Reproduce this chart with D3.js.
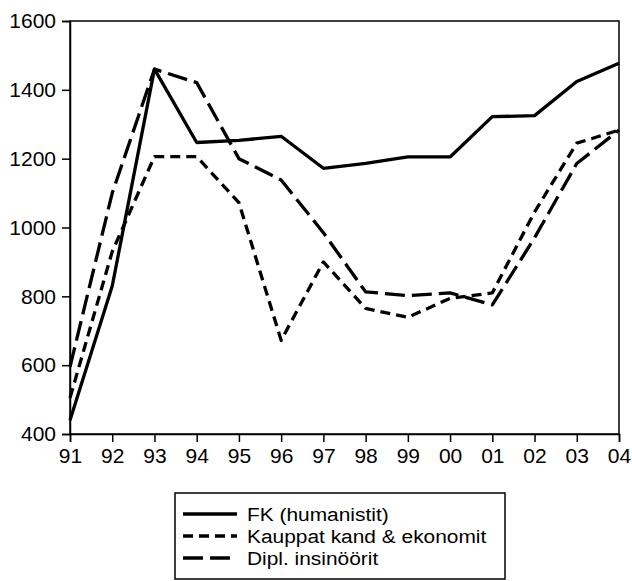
<!DOCTYPE html>
<html>
<head>
<meta charset="utf-8">
<script src="https://cdn.jsdelivr.net/npm/d3@7"></script>
<style>
  html, body { margin: 0; padding: 0; background: #fff; }
  svg text { font-family: "Liberation Sans", Arial, sans-serif; fill: #000; }
</style>
</head>
<body>
<svg id="chart" width="632" height="581"></svg>
<script>
const years = ["91","92","93","94","95","96","97","98","99","00","01","02","03","04"];
const fkHumanistit = [440, 830, 1460, 1247, 1253, 1265, 1172, 1186, 1205, 1205, 1322, 1325, 1424, 1477];
const kauppatKand  = [505, 930, 1206, 1206, 1072, 672, 900, 765, 739, 794, 810, 1045, 1245, 1283];
const diplInsinoorit = [595, 1100, 1460, 1421, 1200, 1138, 985, 813, 802, 810, 775, 970, 1186, 1283];
const yTicks = [400, 600, 800, 1000, 1200, 1400, 1600];
const seriesNames = ["FK (humanistit)", "Kauppat kand & ekonomit", "Dipl. insinöörit"];

const series = [
  { name: seriesNames[0], values: fkHumanistit, dash: null },
  { name: seriesNames[1], values: kauppatKand, dash: "10,6" },
  { name: seriesNames[2], values: diplInsinoorit, dash: "20,7" }
];

const svg = d3.select("#chart");
const L = 70, R = 619, T = 21, B = 434;

const x = d3.scalePoint().domain(years).range([L, R]);
const y = d3.scaleLinear().domain([400, 1600]).range([B, T]);

// frame
svg.append("rect").attr("x", L).attr("y", T).attr("width", R - L).attr("height", B - T)
  .attr("fill", "none").attr("stroke", "#000").attr("stroke-width", 1.5);

// y axis
const yAxis = svg.append("g").attr("transform", `translate(${L},0)`)
  .call(d3.axisLeft(y).tickValues(yTicks).tickFormat(d3.format("d")).tickSize(8).tickPadding(6));
yAxis.select(".domain").attr("stroke-width", 1.5);
yAxis.selectAll(".tick line").attr("stroke-width", 1.5);
yAxis.selectAll("text").attr("font-size", 21).attr("font-family", "Liberation Sans, Arial, sans-serif");

// x axis
const xAxis = svg.append("g").attr("transform", `translate(0,${B})`)
  .call(d3.axisBottom(x).tickSize(8).tickPadding(6));
xAxis.select(".domain").attr("stroke-width", 1.5);
xAxis.selectAll(".tick line").attr("stroke-width", 1.5);
xAxis.selectAll("text").attr("font-size", 21).attr("font-family", "Liberation Sans, Arial, sans-serif");

// lines
const line = d3.line().x((d, i) => x(years[i])).y(d => y(d));
series.forEach(s => {
  svg.append("path").datum(s.values)
    .attr("d", line)
    .attr("fill", "none")
    .attr("stroke", "#000")
    .attr("stroke-width", 3.3)
    .attr("stroke-linejoin", "round")
    .attr("stroke-dasharray", s.dash);
});

// legend
const lg = svg.append("g");
lg.append("rect").attr("x", 175).attr("y", 493).attr("width", 330).attr("height", 86)
  .attr("fill", "#fff").attr("stroke", "#000").attr("stroke-width", 1.5);
series.forEach((s, i) => {
  const yy = 514 + i * 22;
  lg.append("line").attr("x1", 183).attr("x2", 237).attr("y1", yy).attr("y2", yy)
    .attr("stroke", "#000").attr("stroke-width", 3.3).attr("stroke-dasharray", s.dash);
  lg.append("text")
    .attr("transform", `translate(247,${yy}) scale(1.1,1)`)
    .attr("dy", "0.35em")
    .attr("font-size", 19).text(s.name);
});
</script>
</body>
</html>
